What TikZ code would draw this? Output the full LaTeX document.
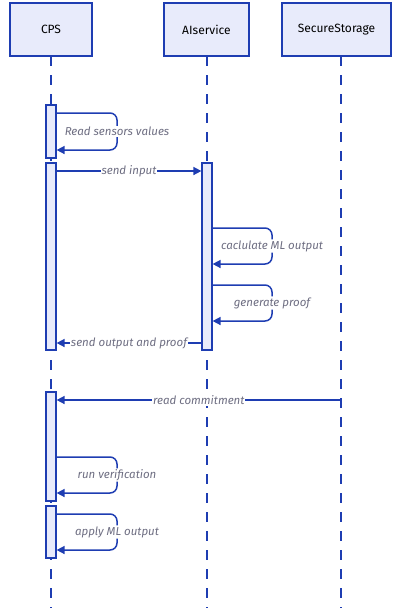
\documentclass[tikz,border=0pt]{standalone}
\usepackage{fontspec}
\setmainfont{Fira Sans}
\usetikzlibrary{arrows.meta}
\definecolor{seqline}{HTML}{1E3DB2}
\definecolor{seqfill}{HTML}{E8EBFB}
\definecolor{seqtext}{HTML}{6E6E82}
\tikzset{
  actor/.style={draw=seqline, fill=seqfill, line width=1.6pt, minimum height=53pt, inner sep=0pt, font=\fontsize{12}{14}\selectfont},
  lifeline/.style={draw=seqline, line width=1.6pt, dash pattern=on 10pt off 9pt},
  act/.style={draw=seqline, fill=seqfill, line width=1.2pt, minimum width=10pt, inner sep=0pt},
  msg/.style={draw=seqline, line width=1.5pt, -{Triangle[length=8pt,width=8pt]}},
  loopmsg/.style={msg, rounded corners=7pt},
  msglabel/.style={fill=white, text=seqtext, font=\fontsize{11.5}{13}\selectfont\itshape, inner sep=1pt},
}
\begin{document}
\begin{tikzpicture}[x=1pt,y=-1pt]
  \useasboundingbox (0,0) rectangle (392,611);
  % actors
  \node[actor, minimum width=82pt] (cps) at (51,29.5) {CPS};
  \node[actor, minimum width=85pt] (ai) at (206.5,29.5) {AIservice};
  \node[actor, minimum width=109pt] (store) at (336.5,29.5) {SecureStorage};
  % lifelines
  \coordinate (cps top) at (51,56);
  \coordinate (cps end) at (51,608);
  \coordinate (ai top) at (207,56);
  \coordinate (ai end) at (207,608);
  \coordinate (store top) at (341,56);
  \coordinate (store end) at (341,608);
  \draw[lifeline] (cps top) -- (cps end);
  \draw[lifeline] (ai top) -- (ai end);
  \draw[lifeline] (store top) -- (store end);
  % activations
  \node[act, minimum height=53pt] (cps act1) at (51,131.5) {};
  \node[act, minimum height=187pt] (cps act2) at (51,256.5) {};
  \node[act, minimum height=187pt] (ai act) at (207,256.5) {};
  \node[act, minimum height=109pt] (cps act3) at (51,446.5) {};
  \node[act, minimum height=52pt] (cps act4) at (51,532) {};
  % messages
  \draw[loopmsg] (cps act1.east |- 0,113) -- (117,113) -- (117,150)
    node[msglabel, midway] {Read sensors values} -- (cps act1.east |- 0,150);
  \draw[msg] (cps act2.east |- 0,171) -- node[msglabel] {send input} (ai act.west |- 0,171);
  \draw[loopmsg] (ai act.east |- 0,228) -- (272,228) -- (272,264)
    node[msglabel, midway] {caclulate ML output} -- (ai act.east |- 0,264);
  \draw[loopmsg] (ai act.east |- 0,285) -- (272,285) -- (272,321)
    node[msglabel, midway] {generate proof} -- (ai act.east |- 0,321);
  \draw[msg] (ai act.west |- 0,343) -- node[msglabel] {send output and proof} (cps act2.east |- 0,343);
  \draw[msg] (store top |- 0,400) -- node[msglabel] {read commitment} (cps act3.east |- 0,400);
  \draw[loopmsg] (cps act3.east |- 0,457) -- (117,457) -- (117,493)
    node[msglabel, midway] {run verification} -- (cps act3.east |- 0,493);
  \draw[loopmsg] (cps act4.east |- 0,514) -- (117,514) -- (117,550)
    node[msglabel, midway] {apply ML output} -- (cps act4.east |- 0,550);
\end{tikzpicture}
\end{document}
